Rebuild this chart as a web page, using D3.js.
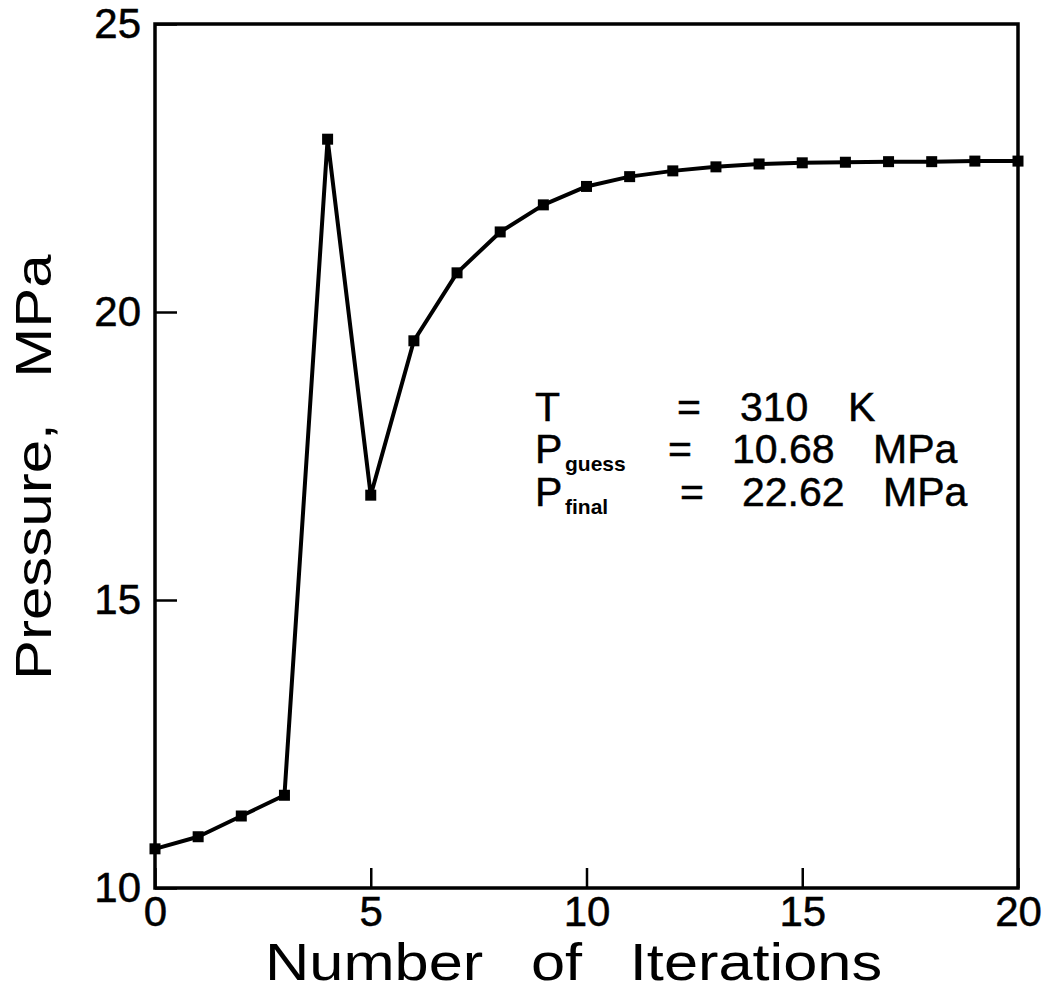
<!DOCTYPE html>
<html>
<head>
<meta charset="utf-8">
<script src="https://cdn.jsdelivr.net/npm/d3@7"></script>
<style>
  body { margin: 0; background: #fff; }
  text { font-family: "Liberation Sans", Arial, sans-serif; fill: #000; }
  .thick { stroke: #000; stroke-width: 0.5px; }
</style>
</head>
<body>
<div id="chart"></div>
<script>
// iteration number and pressure (MPa)
const iterations = d3.range(0, 21);
const pressure = [10.68, 10.89, 11.25, 11.61, 23.00, 16.82, 19.50, 20.68, 21.39, 21.86,
                  22.18, 22.35, 22.45, 22.52, 22.57, 22.59, 22.60, 22.61, 22.61, 22.62, 22.62];

const xTicks = [0, 5, 10, 15, 20];
const yTicks = [10, 15, 20, 25];

// annotation rows: main symbol, subscript, value, unit
const noteMain = ["T", "P", "P"];
const noteSub = ["", "guess", "final"];
const noteValue = ["310", "10.68", "22.62"];
const noteUnit = ["K", "MPa", "MPa"];

const W = 1047, H = 995;
const margin = {top: 24, right: 29, bottom: 107, left: 155};
const width = W - margin.left - margin.right;
const height = H - margin.top - margin.bottom;

const svg = d3.select("#chart").append("svg")
    .attr("width", W)
    .attr("height", H)
    .append("g")
    .attr("transform", "translate(" + margin.left + "," + margin.top + ")");

const x = d3.scaleLinear().domain([0, 20]).range([0, width]);
const y = d3.scaleLinear().domain([10, 25]).range([height, 0]);

// axes with inward ticks
const xAxis = d3.axisBottom(x).tickValues(xTicks).tickSizeInner(-20).tickSizeOuter(0).tickPadding(8);
const yAxis = d3.axisLeft(y).tickValues(yTicks).tickSizeInner(-22).tickSizeOuter(0).tickPadding(14);

const gx = svg.append("g").attr("transform", "translate(0," + height + ")").call(xAxis);
const gy = svg.append("g").call(yAxis);

[gx, gy].forEach(g => {
    g.select(".domain").remove();
    g.selectAll(".tick line").attr("stroke", "#000").attr("stroke-width", 2.5);
    g.selectAll(".tick text").attr("class", "thick").style("font-size", "42px").attr("fill", "#000");
});

// frame
svg.append("rect")
    .attr("width", width)
    .attr("height", height)
    .attr("fill", "none")
    .attr("stroke", "#000")
    .attr("stroke-width", 3.5);

// data line + markers
const data = iterations.map((d, i) => ({it: d, p: pressure[i]}));

svg.append("path")
    .datum(data)
    .attr("fill", "none")
    .attr("stroke", "#000")
    .attr("stroke-width", 4)
    .attr("stroke-linejoin", "round")
    .attr("d", d3.line().x(d => x(d.it)).y(d => y(d.p)));

const ms = 11;
svg.selectAll("rect.marker")
    .data(data)
    .enter()
    .append("rect")
    .attr("class", "marker")
    .attr("x", d => x(d.it) - ms / 2)
    .attr("y", d => y(d.p) - ms / 2)
    .attr("width", ms)
    .attr("height", ms)
    .attr("fill", "#000");

// axis titles (wide glyphs, wide word gaps like the original lettering)
svg.append("text")
    .attr("transform", "translate(" + (265 - margin.left) + "," + (980 - margin.top) + ") scale(1.18,1)")
    .style("font-size", "52px")
    .style("word-spacing", "26px")
    .text("Number of Iterations");

svg.append("text")
    .attr("transform", "translate(" + (51 - margin.left) + "," + (680 - margin.top) + ") rotate(-90) scale(1.2,1)")
    .style("font-size", "50px")
    .style("word-spacing", "24px")
    .text("Pressure, MPa");

// annotation block
const rowBase = [421, 463, 506];
const colMain = 535, colSub = 565;
const colEq = [677, 668, 680];
const colVal = [740, 732, 742];
const colUnit = [848, 873, 883];

const note = svg.append("g").attr("transform", "translate(" + (-margin.left) + "," + (-margin.top) + ")");
noteMain.forEach((m, i) => {
    note.append("text").attr("class", "thick").attr("x", colMain).attr("y", rowBase[i]).style("font-size", "41px").text(m);
    if (noteSub[i]) {
        note.append("text").attr("x", colSub).attr("y", rowBase[i] + 8)
            .style("font-size", "21px").style("font-weight", "bold").text(noteSub[i]);
    }
    note.append("text").attr("class", "thick").attr("x", colEq[i]).attr("y", rowBase[i]).style("font-size", "41px").text("=");
    note.append("text").attr("class", "thick").attr("x", colVal[i]).attr("y", rowBase[i]).style("font-size", "41px").text(noteValue[i]);
    note.append("text").attr("class", "thick").attr("x", colUnit[i]).attr("y", rowBase[i]).style("font-size", "41px").text(noteUnit[i]);
});
</script>
</body>
</html>
